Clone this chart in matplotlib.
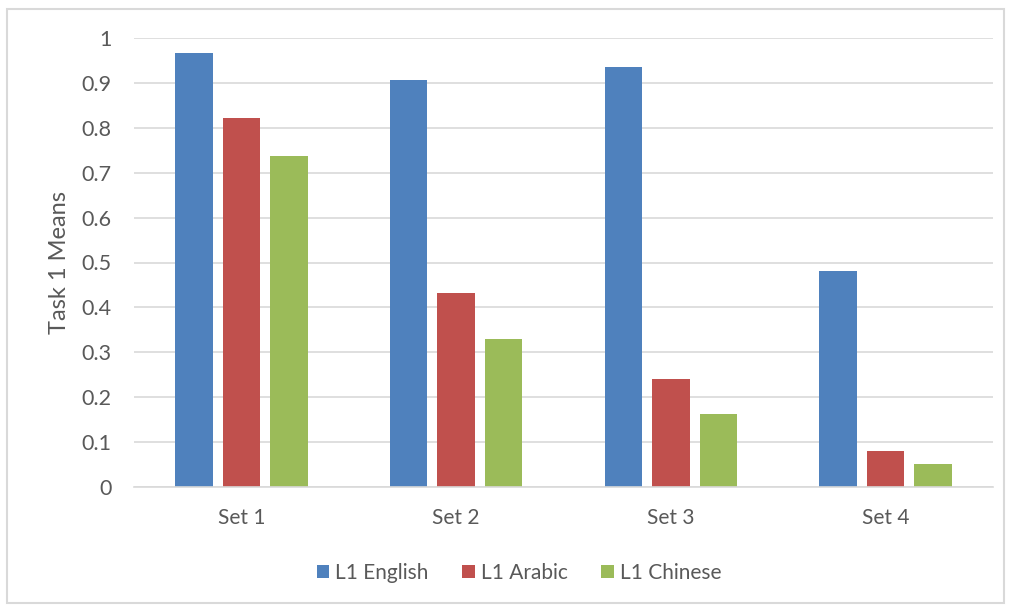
import matplotlib
matplotlib.use("Agg")
import matplotlib.pyplot as plt
import numpy as np
from matplotlib.patches import Rectangle

categories = ["Set 1", "Set 2", "Set 3", "Set 4"]
series_names = ["L1 English", "L1 Arabic", "L1 Chinese"]
l1_english = [0.966, 0.906, 0.935, 0.481]
l1_arabic = [0.822, 0.432, 0.240, 0.080]
l1_chinese = [0.737, 0.330, 0.163, 0.052]
colors = ["#4F81BD", "#C0504D", "#9BBB59"]
y_ticks = [0, 0.1, 0.2, 0.3, 0.4, 0.5, 0.6, 0.7, 0.8, 0.9, 1]
y_ticklabels = ["0", "0.1", "0.2", "0.3", "0.4", "0.5", "0.6", "0.7", "0.8", "0.9", "1"]

plt.rcParams["font.family"] = ["Lato", "DejaVu Sans"]
text_color = "#595959"
grid_color = "#D9D9D9"

W, H = 1011, 605
fig = plt.figure(figsize=(W / 100, H / 100), dpi=100)
ax = fig.add_axes([134 / W, 1 - 487 / H, (993 - 134) / W, (487 - 38) / H])

x = np.arange(len(categories))
bar_w = 0.175
step = 0.221
for i, (vals, name) in enumerate(zip([l1_english, l1_arabic, l1_chinese], series_names)):
    ax.bar(x + (i - 1) * step, vals, width=bar_w, color=colors[i], label=name, zorder=3)

ax.set_xlim(-0.5, len(categories) - 0.5)
ax.set_ylim(0, 1)
ax.set_yticks(y_ticks)
ax.set_yticklabels(y_ticklabels)
ax.set_xticks(x)
ax.set_xticklabels(categories)
ax.tick_params(axis="y", length=0, labelsize=15.5, colors=text_color, pad=16)
ax.tick_params(axis="x", length=0, labelsize=15, colors=text_color, pad=15)
ax.yaxis.grid(True, color=grid_color, linewidth=1.2, zorder=0)
for s in ["top", "right", "left"]:
    ax.spines[s].set_visible(False)
ax.spines["bottom"].set_color(grid_color)
ax.spines["bottom"].set_linewidth(1.2)
ax.spines["bottom"].set_zorder(4)

fig.text(60 / W, 1 - 263 / H, "Task 1 Means", rotation=90, ha="center", va="center",
         fontsize=17, color=text_color)

fig.legend(loc="center", bbox_to_anchor=(519 / W, 1 - 573 / H), ncol=3, frameon=False,
           fontsize=15, labelcolor=text_color, handlelength=0.6, handleheight=0.6,
           handletextpad=0.3, columnspacing=1.6)

fig.patches.append(Rectangle((7 / W, 1 - 603 / H), (1004 - 7) / W, (603 - 9) / H,
                             transform=fig.transFigure, fill=False,
                             edgecolor="#D9D9D9", linewidth=1.5))

fig.savefig("out.png", dpi=100, facecolor="white")
